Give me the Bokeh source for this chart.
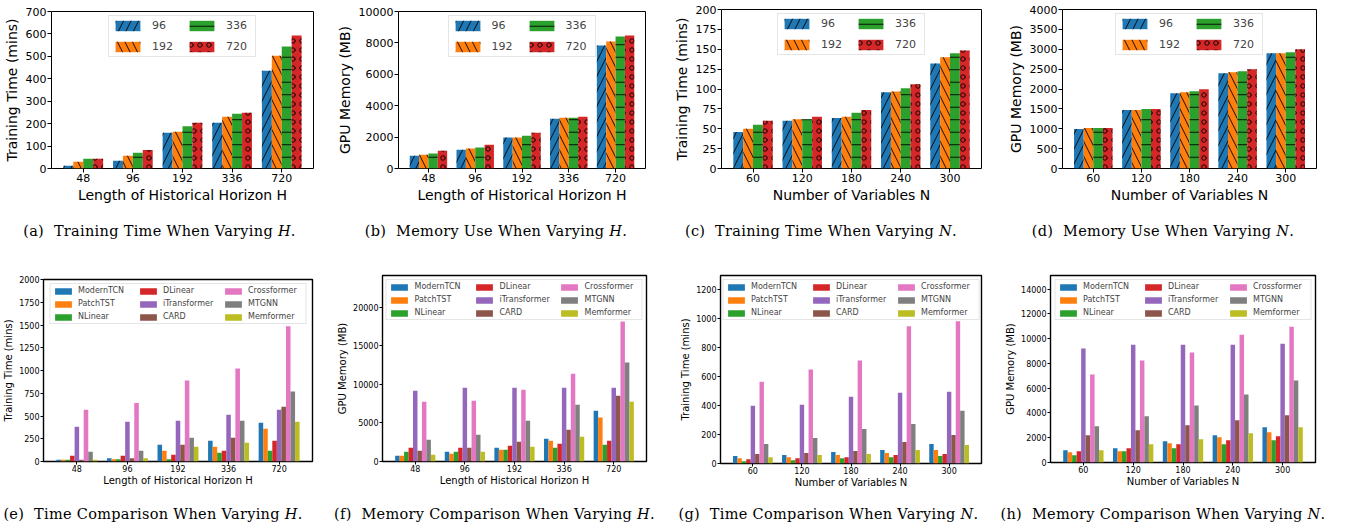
import numpy as np
from bokeh.plotting import figure
from bokeh.models import Range1d, FixedTicker, Div
from bokeh.layouts import row, column
from bokeh.embed import file_html
from bokeh.resources import INLINE

# ---------------- data ----------------
H_labels = ["48", "96", "192", "336", "720"]
N_labels = ["60", "120", "180", "240", "300"]
pred_lens = ["96", "192", "336", "720"]
models = ["ModernTCN", "PatchTST", "NLinear", "DLinear", "iTransformer",
          "CARD", "Crossformer", "MTGNN", "Memformer"]

# (a) training time (mins) vs H, one list per prediction length
time_H = [
    [12, 34, 159, 204, 436],
    [30, 57, 164, 231, 503],
    [43, 70, 188, 244, 544],
    [43, 83, 204, 249, 593],
]
# (b) GPU memory (MB) vs H
mem_H = [
    [808, 1191, 1979, 3170, 7830],
    [872, 1277, 1979, 3234, 8085],
    [957, 1340, 2085, 3234, 8404],
    [1128, 1511, 2277, 3298, 8468],
]
# (c) training time (mins) vs N
time_N = [
    [46, 60, 63.5, 96, 132],
    [50, 62, 65, 97, 140],
    [55, 62, 70, 101, 145],
    [60, 65, 73.5, 106, 148.5],
]
# (d) GPU memory (MB) vs N
mem_N = [
    [994, 1470, 1896, 2397, 2898],
    [1019, 1470, 1921, 2422, 2898],
    [1019, 1495, 1946, 2447, 2923],
    [1019, 1495, 1996, 2497, 2998],
]
# (e) time comparison vs H, one list per model
cmp_time_H = [
    [18, 37, 184, 228, 426],
    [18, 26, 118, 162, 360],
    [18, 26, 26, 96, 118],
    [62, 62, 74, 118, 228],
    [382, 437, 449, 515, 570],
    [18, 37, 184, 261, 603],
    [570, 643, 890, 1022, 1485],
    [107, 118, 261, 449, 768],
    [18, 37, 162, 206, 437],
]
# (f) memory comparison vs H
cmp_mem_H = [
    [736, 1255, 1775, 2944, 6580],
    [736, 996, 1515, 2684, 5714],
    [1255, 1255, 1515, 1775, 2165],
    [1775, 1775, 2035, 2294, 2684],
    [9177, 9567, 9567, 9567, 9567],
    [1385, 1775, 2554, 4113, 8528],
    [7749, 7879, 9307, 11385, 18139],
    [2814, 3463, 5281, 7359, 12814],
    [866, 1255, 1905, 3203, 7749],
]
# (g) time comparison vs N
cmp_time_N = [
    [51, 58, 79, 93, 135],
    [37, 44, 58, 72, 93],
    [16, 23, 37, 44, 51],
    [30, 37, 44, 58, 65],
    [399, 406, 462, 490, 496],
    [65, 72, 86, 148, 197],
    [566, 650, 712, 949, 984],
    [135, 176, 239, 274, 364],
    [44, 58, 65, 93, 128],
]
# (h) memory comparison vs N
cmp_mem_N = [
    [992, 1153, 1716, 2198, 2842],
    [831, 912, 1555, 2038, 2440],
    [590, 912, 1153, 1475, 1796],
    [912, 1153, 1475, 1796, 2118],
    [9196, 9518, 9518, 9518, 9598],
    [2198, 2601, 3003, 3405, 3807],
    [7105, 8231, 8874, 10322, 10965],
    [2922, 3727, 4611, 5496, 6622],
    [992, 1475, 1877, 2359, 2842],
]

captions = [
    "(a)&nbsp;&nbsp;Training Time When Varying <i>H</i>.",
    "(b)&nbsp;&nbsp;Memory Use When Varying <i>H</i>.",
    "(c)&nbsp;&nbsp;Training Time When Varying <i>N</i>.",
    "(d)&nbsp;&nbsp;Memory Use When Varying <i>N</i>.",
    "(e)&nbsp;&nbsp;Time Comparison When Varying <i>H</i>.",
    "(f)&nbsp;&nbsp;Memory Comparison When Varying <i>H</i>.",
    "(g)&nbsp;&nbsp;Time Comparison When Varying <i>N</i>.",
    "(h)&nbsp;&nbsp;Memory Comparison When Varying <i>N</i>.",
]

# ---------------- style ----------------
tab10 = ["#1f77b4", "#ff7f0e", "#2ca02c", "#d62728", "#9467bd",
         "#8c564b", "#e377c2", "#7f7f7f", "#bcbd22"]
hatches = ["/", "\\", "-", "o"]
hatch_scales = [15, 15, 12.5, 9]
FONT = "DejaVu Sans"


def style_axes(p, labels, yticks, xlabel, ylabel, tick_fs, label_fs, tick_out):
    p.xgrid.visible = False
    p.ygrid.visible = False
    p.outline_line_color = "black"
    p.outline_line_width = 1
    p.xaxis.ticker = FixedTicker(ticks=list(range(len(labels))))
    p.xaxis.major_label_overrides = {i: l for i, l in enumerate(labels)}
    p.yaxis.ticker = FixedTicker(ticks=yticks)
    for ax in (p.xaxis, p.yaxis):
        ax.axis_line_color = None
        ax.major_tick_in = 0
        ax.major_tick_out = tick_out
        ax.major_tick_line_color = "black"
        ax.minor_tick_line_color = None
        ax.major_label_text_font = FONT
        ax.major_label_text_font_size = tick_fs
        ax.major_label_text_color = "black"
        ax.axis_label_text_font = FONT
        ax.axis_label_text_font_size = label_fs
        ax.axis_label_text_font_style = "normal"
        ax.axis_label_text_color = "black"
    p.xaxis.axis_label = xlabel
    p.yaxis.axis_label = ylabel


def top_fig(series, labels, ymax, ystep, xlabel, ylabel, left, right, top, fw, fh, bottom):
    p = figure(frame_width=fw, frame_height=fh, min_border_left=left,
               min_border_right=right, min_border_top=top, min_border_bottom=bottom,
               x_range=Range1d(-0.64, 4.64), y_range=Range1d(0, ymax),
               output_backend="svg", toolbar_location=None, tools="")
    x = np.arange(len(labels))
    for k, vals in enumerate(series):
        p.vbar(x=x + (k - 1.5) * 0.2, top=vals, width=0.2, bottom=0,
               fill_color=tab10[k], line_color=None,
               hatch_pattern=hatches[k], hatch_color="black",
               hatch_scale=hatch_scales[k], hatch_weight=0.9,
               legend_label=pred_lens[k])
    style_axes(p, labels, list(range(0, ymax + 1, ystep)), xlabel, ylabel,
               "11px", "14px", 4)
    p.xaxis.major_label_standoff = 1
    p.xaxis.axis_label_standoff = 2
    p.yaxis.major_label_standoff = 1
    p.yaxis.axis_label_standoff = 3
    lg = p.legend[0]
    lg.location = "top_center"
    lg.orientation = "vertical"
    lg.nrows = 2
    lg.margin = 4
    lg.padding = 3
    lg.spacing = 8
    lg.glyph_width = 31
    lg.glyph_height = 13
    lg.label_height = 13
    lg.label_width = 26
    lg.label_standoff = 9
    lg.label_text_font = FONT
    lg.label_text_font_size = "11px"
    lg.border_line_color = "#cccccc"
    lg.background_fill_alpha = 0.85
    return p


def bottom_fig(series, labels, ymax, yticks, xlabel, ylabel, left, right, top, fw, fh, bottom):
    p = figure(frame_width=fw, frame_height=fh, min_border_left=left,
               min_border_right=right, min_border_top=top, min_border_bottom=bottom,
               x_range=Range1d(-0.66, 4.66), y_range=Range1d(0, ymax),
               output_backend="svg", toolbar_location=None, tools="")
    x = np.arange(len(labels))
    w = 0.09
    for k, vals in enumerate(series):
        p.vbar(x=x + (k - 4) * w, top=vals, width=w, bottom=0,
               fill_color=tab10[k], line_color=None, legend_label=models[k])
    style_axes(p, labels, yticks, xlabel, ylabel, "8px", "10px", 3)
    p.outline_line_width = 1.4
    p.xaxis.major_label_standoff = 0
    p.xaxis.axis_label_standoff = 0
    p.yaxis.major_label_standoff = 1
    p.yaxis.axis_label_standoff = 2
    lg = p.legend[0]
    lg.location = "top_center"
    lg.orientation = "vertical"
    lg.nrows = 3
    lg.margin = 4
    lg.padding = 2
    lg.spacing = 4
    lg.glyph_width = 21
    lg.glyph_height = 8
    lg.label_height = 8
    lg.label_width = 55
    lg.label_standoff = 5
    lg.label_text_font = FONT
    lg.label_text_font_size = "8px"
    lg.border_line_color = "#cccccc"
    lg.background_fill_alpha = 0.85
    return p


def caption(html_text, width, height, shift):
    html = ('<div style="width:%dpx;text-align:center;white-space:nowrap;'
            'font-family:\'DejaVu Serif\';font-size:14.5px;letter-spacing:0.3px;'
            'line-height:15px;color:#000;'
            'position:relative;left:%spx;">%s</div>' % (width, shift, html_text))
    return Div(text=html, width=width, height=height, margin=0)


XH = "Length of Historical Horizon H"
XN = "Number of Variables N"

pa = top_fig(time_H, H_labels, 700, 100, XH, "Training Time (mins)", 51, 17, 11, 262, 157, 56)
pb = top_fig(mem_H, H_labels, 10000, 2000, XH, "GPU Memory (MB)", 68, 25, 11, 247, 157, 56)
pc = top_fig(time_N, N_labels, 200, 25, XN, "Training Time (mins)", 50, 20, 9, 260, 159, 56)
pd_ = top_fig(mem_N, N_labels, 4000, 500, XN, "GPU Memory (MB)", 61, 35, 9, 254, 159, 56)

pe = bottom_fig(cmp_time_H, H_labels, 2000, list(range(0, 2001, 250)), XH,
                "Training Time (mins)", 43, 18, 14, 269, 182, 46)
pf = bottom_fig(cmp_mem_H, H_labels, 24100, list(range(0, 20001, 5000)), XH,
                "GPU Memory (MB)", 52, 24, 10, 264, 186, 46)
pg = bottom_fig(cmp_time_N, N_labels, 1300, list(range(0, 1201, 200)), XN,
                "Training Time (mins)", 50, 19, 10, 261, 188, 44)
ph = bottom_fig(cmp_mem_N, N_labels, 15100, list(range(0, 14001, 2000)), XN,
                "GPU Memory (MB)", 50, 35, 10, 265, 187, 45)

widths = [330, 340, 330, 350]
top_shifts = [-5.5, -4, -14, -13]
bot_shifts = [-12, -5.5, -6.5, -12]

top_row = row(
    column(pa, caption(captions[0], widths[0], 41, top_shifts[0])),
    column(pb, caption(captions[1], widths[1], 41, top_shifts[1])),
    column(pc, caption(captions[2], widths[2], 41, top_shifts[2])),
    column(pd_, caption(captions[3], widths[3], 41, top_shifts[3])),
)
bot_row = row(
    column(pe, caption(captions[4], widths[0], 20, bot_shifts[0])),
    column(pf, caption(captions[5], widths[1], 20, bot_shifts[1])),
    column(pg, caption(captions[6], widths[2], 20, bot_shifts[2])),
    column(ph, caption(captions[7], widths[3], 20, bot_shifts[3])),
)
layout = column(top_row, bot_row)

open("out.html", "w").write(file_html(layout, INLINE))
